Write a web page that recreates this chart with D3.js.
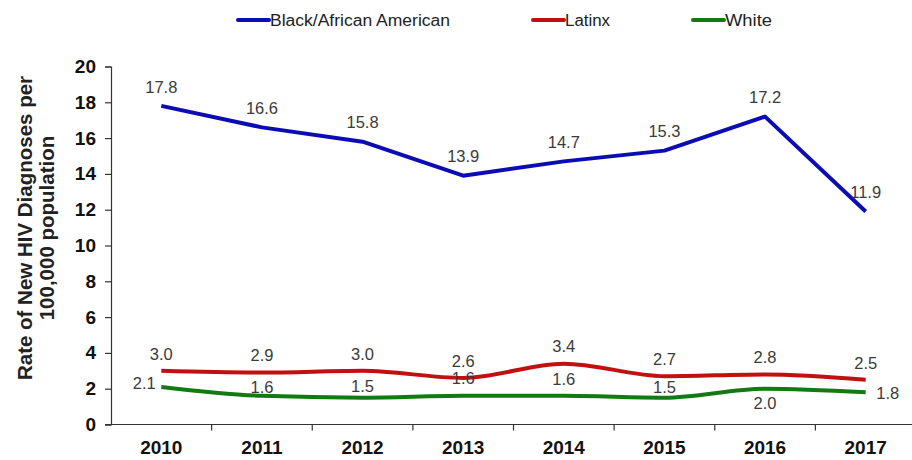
<!DOCTYPE html>
<html>
<head>
<meta charset="utf-8">
<script src="https://cdn.jsdelivr.net/npm/d3@7"></script>
<style>
  html, body { margin: 0; padding: 0; background: #fff; }
  svg { display: block; font-family: "Liberation Sans", Arial, sans-serif; }
</style>
</head>
<body>
<svg id="chart" width="912" height="460"></svg>
<script>
// Rate of new HIV diagnoses per 100,000 population, by race/ethnicity
const years = ["2010", "2011", "2012", "2013", "2014", "2015", "2016", "2017"];
const black = [17.8, 16.6, 15.8, 13.9, 14.7, 15.3, 17.2, 11.9];
const latinx = [3.0, 2.9, 3.0, 2.6, 3.4, 2.7, 2.8, 2.5];
const white = [2.1, 1.6, 1.5, 1.6, 1.6, 1.5, 2.0, 1.8];
const seriesNames = ["Black/African American", "Latinx", "White"];
const yTicks = [0, 2, 4, 6, 8, 10, 12, 14, 16, 18, 20];

const svg = d3.select("#chart");
const plotLeft = 111, plotRight = 916, plotTop = 66.5, plotBottom = 424.5;

const x = d3.scaleBand().domain(years).range([plotLeft, plotRight]);
const y = d3.scaleLinear().domain([0, 20]).range([plotBottom, plotTop]);
const cx = d => x(d) + x.bandwidth() / 2;

// Y axis
const yAxis = svg.append("g")
  .attr("transform", `translate(${plotLeft},0)`)
  .call(d3.axisLeft(y).tickValues(yTicks).tickSize(6).tickPadding(9).tickFormat(d3.format("d")));
yAxis.select(".domain").attr("stroke", "#333").attr("stroke-width", 1.2);
yAxis.selectAll(".tick line").attr("stroke", "#333").attr("stroke-width", 1.2);
yAxis.selectAll(".tick text")
  .attr("font-size", 19).attr("font-weight", "bold").attr("fill", "#111")
  .attr("font-family", "Liberation Sans, Arial, sans-serif");

// X axis: ticks at band boundaries, labels at band centres
const xAxis = svg.append("g")
  .attr("transform", `translate(0,${plotBottom})`);
xAxis.append("line")
  .attr("x1", plotLeft - 6).attr("x2", 912)
  .attr("stroke", "#333").attr("stroke-width", 1.2);
xAxis.selectAll("line.tick")
  .data(years.slice(1))
  .join("line")
  .attr("class", "tick")
  .attr("x1", d => x(d)).attr("x2", d => x(d))
  .attr("y1", 0).attr("y2", 6)
  .attr("stroke", "#333").attr("stroke-width", 1.2);
xAxis.selectAll("text")
  .data(years)
  .join("text")
  .attr("x", d => cx(d))
  .attr("y", 29)
  .attr("text-anchor", "middle")
  .attr("font-size", 19).attr("font-weight", "bold").attr("fill", "#111")
  .text(d => d);

// Y axis title
const yTitle = svg.append("text")
  .attr("transform", "translate(32,228) rotate(-90)")
  .attr("text-anchor", "middle")
  .attr("font-size", 20.5).attr("font-weight", "bold").attr("fill", "#222");
yTitle.append("tspan").attr("x", 0).attr("dy", 0).text("Rate of New HIV Diagnoses per");
yTitle.append("tspan").attr("x", 0).attr("dy", 22).text("100,000 population");

// Lines
const colors = ["#0c0cb4", "#c01010", "#127a12"];
const allSeries = [black, latinx, white];
const curves = [d3.curveLinear, d3.curveMonotoneX, d3.curveMonotoneX];

allSeries.forEach((vals, i) => {
  const line = d3.line()
    .x((d, j) => cx(years[j]))
    .y(d => y(d))
    .curve(curves[i]);
  svg.append("path")
    .datum(vals)
    .attr("fill", "none")
    .attr("stroke", colors[i])
    .attr("stroke-width", 4)
    .attr("stroke-linejoin", "round")
    .attr("d", line);
});

// Data labels
const labelOffsets = {
  black:  years.map(() => [0, -19]),
  latinx: years.map(() => [0, -17]),
  white:  [[-17, -4], [0, -9], [0, -11], [0, -18], [0, -17], [0, -10], [0, 15], [22, 1]]
};
function drawLabels(vals, offs) {
  svg.append("g").selectAll("text")
    .data(vals)
    .join("text")
    .attr("x", (d, j) => cx(years[j]) + offs[j][0])
    .attr("y", (d, j) => y(d) + offs[j][1])
    .attr("dy", "0.35em")
    .attr("text-anchor", "middle")
    .attr("font-size", 16.5)
    .attr("fill", "#3a3a3a")
    .text(d => d3.format(".1f")(d));
}
drawLabels(black, labelOffsets.black);
drawLabels(latinx, labelOffsets.latinx);
drawLabels(white, labelOffsets.white);

// Legend
const legendItems = [
  { x: 238, w: 180 },
  { x: 533, w: 45 },
  { x: 693, w: 47 }
];
const legend = svg.append("g");
seriesNames.forEach((name, i) => {
  const it = legendItems[i];
  legend.append("line")
    .attr("x1", it.x).attr("x2", it.x + 31)
    .attr("y1", 20).attr("y2", 20)
    .attr("stroke", colors[i]).attr("stroke-width", 4)
    .attr("stroke-linecap", "round");
  legend.append("text")
    .attr("x", it.x + 32).attr("y", 20)
    .attr("dy", "0.35em")
    .attr("font-size", 16)
    .attr("fill", "#222")
    .attr("textLength", it.w)
    .attr("lengthAdjust", "spacingAndGlyphs")
    .text(name);
});
</script>
</body>
</html>
